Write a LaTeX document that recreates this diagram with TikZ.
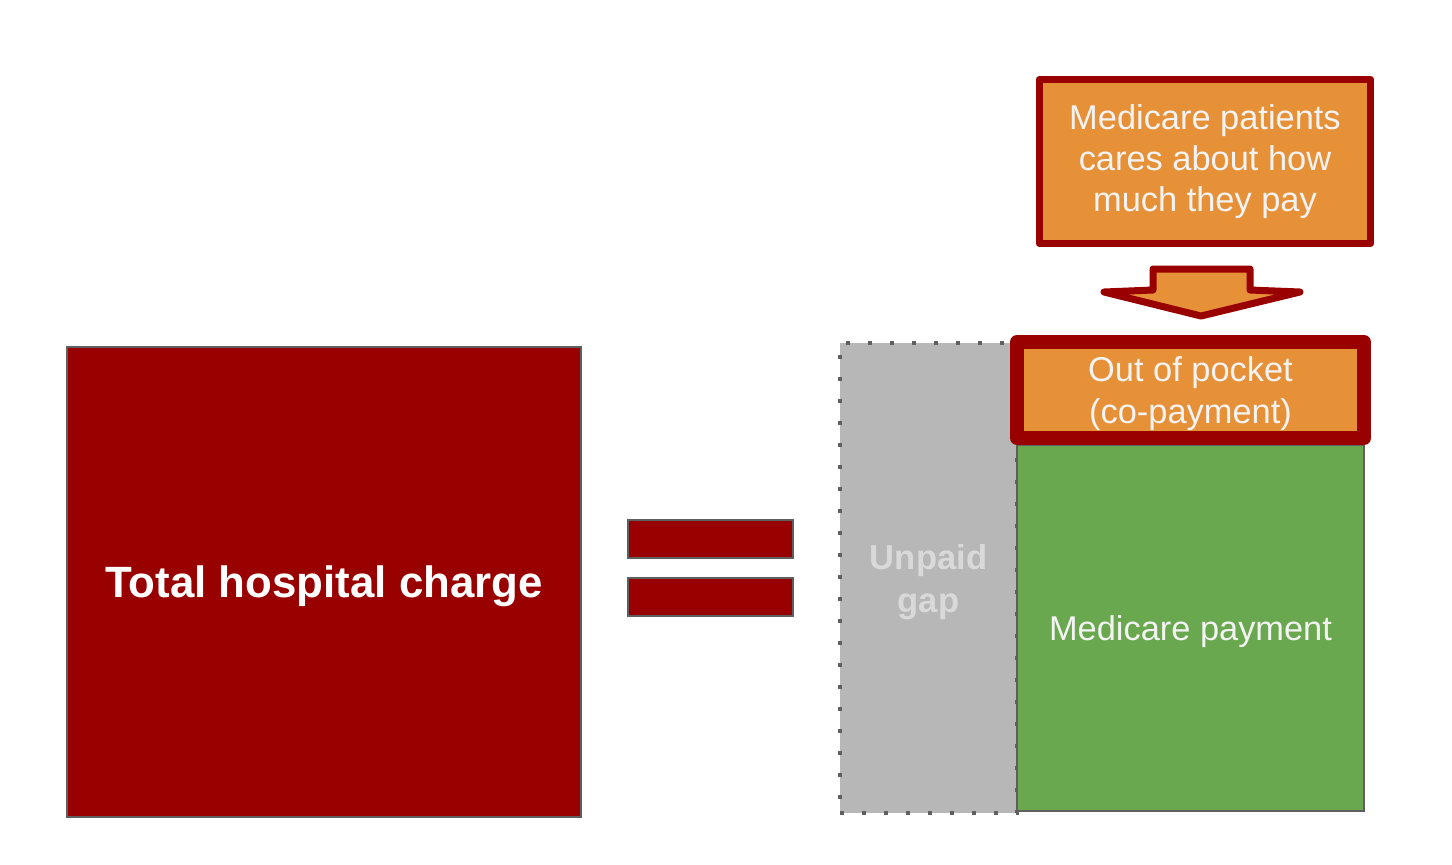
\documentclass[tikz,border=0pt]{standalone}
\usepackage{fontspec}
\setmainfont{Liberation Sans}
\definecolor{dred}{HTML}{990000}
\definecolor{oran}{HTML}{E69138}
\definecolor{grn}{HTML}{6AA84F}
\definecolor{gapgray}{HTML}{B7B7B7}
\definecolor{edgegray}{HTML}{5F5F5F}
\definecolor{offwhite}{HTML}{F3F3F3}
\definecolor{gaptext}{HTML}{D9D9D9}
\begin{document}
\begin{tikzpicture}[x=0.5pt,y=-0.5pt,
  plainbox/.style={rectangle, inner sep=0pt, outer sep=0pt, align=center},
  redblock/.style={plainbox, fill=dred, draw=edgegray, line width=1pt},
  hilite/.style={plainbox, fill=oran, draw=dred, line join=round, text=offwhite,
     font=\fontsize{17.2}{20.7}\selectfont},
  normaltext/.style={font=\fontsize{17.2}{20.7}\selectfont}]
\useasboundingbox (0,0) rectangle (1452,864);

% left block
\node[redblock, minimum width=257pt, minimum height=235pt, text=white, text depth=0pt,
  font=\bfseries\fontsize{21.9}{26}\selectfont] (total) at (324,582) {Total hospital charge};

% equals sign
\node[redblock, minimum width=82.5pt, minimum height=19pt] (eqtop) at (710.5,539) {};
\node[redblock, minimum width=82.5pt, minimum height=19pt] (eqbot) at (710.5,597) {};

% unpaid gap
\node[plainbox, fill=gapgray, draw=edgegray, line width=2pt, dash pattern=on 2pt off 9pt,
  minimum width=88.5pt, minimum height=235pt, text=gaptext, text depth=0pt,
  font=\bfseries\fontsize{17.3}{21.5}\selectfont] (gap) at (928.5,578) {Unpaid\\gap};

% medicare payment
\node[plainbox, fill=grn, draw=edgegray, line width=0.9pt, minimum width=173.5pt,
  minimum height=183pt, text=offwhite, text depth=0pt, normaltext] (pay) at (1190.5,628) {Medicare payment};

% out of pocket
\node[hilite, line width=7pt, minimum width=173.5pt, minimum height=48pt, text depth=0pt] (oop) at (1190.5,390)
  {Out of pocket\\(co-payment)};

% top callout
\node[hilite, line width=3.5pt, minimum width=165.9pt, minimum height=82pt] (note) at (1205,161.5)
  {Medicare patients\\cares about how\\much they pay};

% block arrow
\draw[fill=oran, draw=dred, line width=3.5pt, line join=round]
  (1153,269) -- (1250,269) -- (1250,290) -- (1300,292) -- (1201,316)
  -- (1104,292) -- (1153,290) -- cycle;
\end{tikzpicture}
\end{document}
